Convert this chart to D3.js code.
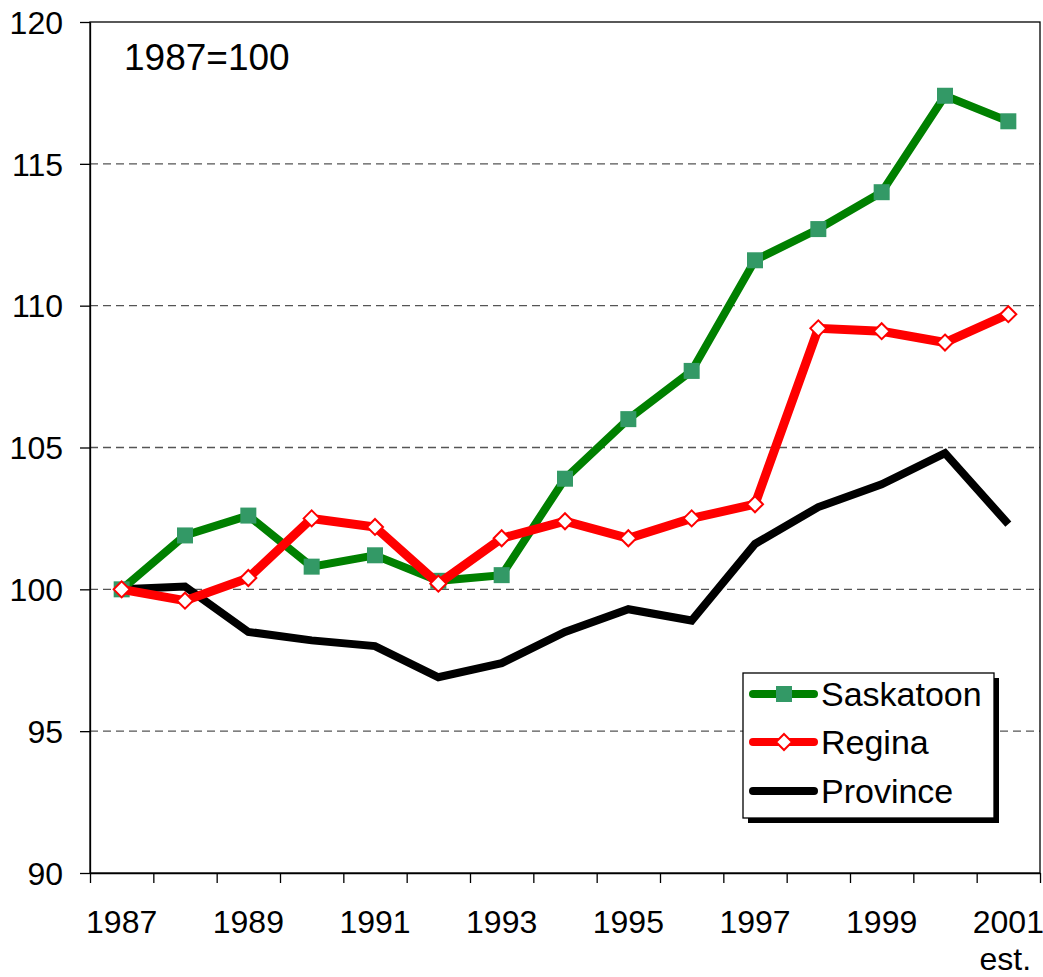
<!DOCTYPE html>
<html>
<head>
<meta charset="utf-8">
<script src="https://cdn.jsdelivr.net/npm/d3@7"></script>
<style>
  body { margin: 0; background: #fff; overflow: hidden; }
  svg { display: block; }
  svg text { font-family: "Liberation Sans", Arial, sans-serif; fill: #000; }
</style>
</head>
<body>
<div id="chart"></div>
<script>
const years = ["1987", "1988", "1989", "1990", "1991", "1992", "1993", "1994",
               "1995", "1996", "1997", "1998", "1999", "2000", "2001"];
const labelYears = ["1987", "1989", "1991", "1993", "1995", "1997", "1999", "2001"];
const saskatoon = [100, 101.9, 102.6, 100.8, 101.2, 100.3, 100.5, 103.9,
                   106.0, 107.7, 111.6, 112.7, 114.0, 117.4, 116.5];
const regina = [100, 99.6, 100.4, 102.5, 102.2, 100.2, 101.8, 102.4,
                101.8, 102.5, 103.0, 109.2, 109.1, 108.7, 109.7];
const province = [100, 100.1, 98.5, 98.2, 98.0, 96.9, 97.4, 98.5,
                  99.3, 98.9, 101.6, 102.9, 103.7, 104.8, 102.3];
const yTicks = [90, 95, 100, 105, 110, 115, 120];

const width = 1043, height = 977;
const plotLeft = 90, plotRight = 1040, plotTop = 22, plotBottom = 873;

const svg = d3.select("#chart").append("svg")
  .attr("width", width).attr("height", height);

const x = d3.scaleBand().domain(years).range([plotLeft, plotRight]);
const xEdge = d3.scaleLinear().domain([0, years.length]).range([plotLeft, plotRight]);
const y = d3.scaleLinear().domain([90, 120]).range([plotBottom, plotTop]);

// dashed gridlines
svg.append("g")
  .selectAll("line")
  .data(yTicks.filter(d => d > 90 && d < 120))
  .enter().append("line")
  .attr("x1", plotLeft).attr("x2", plotRight)
  .attr("y1", d => y(d)).attr("y2", d => y(d))
  .attr("stroke", "#555").attr("stroke-width", 1.3)
  .attr("stroke-dasharray", "8,5");

// plot frame
svg.append("rect")
  .attr("x", plotLeft).attr("y", plotTop)
  .attr("width", plotRight - plotLeft).attr("height", plotBottom - plotTop)
  .attr("fill", "none").attr("stroke", "#000").attr("stroke-width", 1.3);

// y axis
const yAxis = svg.append("g")
  .attr("transform", `translate(${plotLeft},0)`)
  .call(d3.axisLeft(y).tickValues(yTicks).tickSize(10).tickSizeOuter(0).tickPadding(17));
yAxis.selectAll("text").style("font-size", "32px").attr("dy", "0.35em");

// x axis: ticks between categories
svg.append("g")
  .attr("transform", `translate(0,${plotBottom})`)
  .call(d3.axisBottom(xEdge).ticks(years.length).tickSize(10).tickSizeOuter(0).tickFormat(""));

// x axis labels
const xLab = svg.append("g")
  .attr("transform", `translate(0,${plotBottom})`)
  .call(d3.axisBottom(x).tickValues(labelYears).tickSize(0).tickPadding(37));
xLab.select(".domain").remove();
xLab.selectAll("text").style("font-size", "32px").attr("dy", "0.71em");
xLab.selectAll(".tick").filter(d => d === "2001").select("text")
  .append("tspan").attr("x", -3).attr("dy", "1.18em").text("est.");

svg.selectAll(".domain").attr("stroke-width", 1.3);
svg.selectAll(".tick line").attr("stroke-width", 1.3);

const line = d3.line()
  .x((d, i) => x(years[i]) + x.bandwidth() / 2)
  .y(d => y(d));

// Province
svg.append("path").datum(province)
  .attr("d", line).attr("fill", "none")
  .attr("stroke", "#000").attr("stroke-width", 8);

// Saskatoon
svg.append("path").datum(saskatoon)
  .attr("d", line).attr("fill", "none")
  .attr("stroke", "#008000").attr("stroke-width", 8);
svg.append("g").selectAll("rect").data(saskatoon).enter().append("rect")
  .attr("x", (d, i) => x(years[i]) + x.bandwidth() / 2 - 8)
  .attr("y", d => y(d) - 8)
  .attr("width", 16).attr("height", 16)
  .attr("fill", "#339966");

// Regina
svg.append("path").datum(regina)
  .attr("d", line).attr("fill", "none")
  .attr("stroke", "#ff0000").attr("stroke-width", 9);
const diamond = (cx, cy, r) => `M${cx},${cy - r}L${cx + r},${cy}L${cx},${cy + r}L${cx - r},${cy}Z`;
svg.append("g").selectAll("path").data(regina).enter().append("path")
  .attr("d", (d, i) => diamond(x(years[i]) + x.bandwidth() / 2, y(d), 8))
  .attr("fill", "#fff").attr("stroke", "#ff0000").attr("stroke-width", 2);

// label
svg.append("text").attr("x", 124).attr("y", 70)
  .style("font-size", "37px").text("1987=100");

// legend
const lg = svg.append("g");
lg.append("rect").attr("x", 748).attr("y", 678).attr("width", 251).attr("height", 145).attr("fill", "#000");
lg.append("rect").attr("x", 743).attr("y", 673).attr("width", 251).attr("height", 145)
  .attr("fill", "#fff").attr("stroke", "#000").attr("stroke-width", 1.3);

const legendItems = [
  { name: "Saskatoon", color: "#008000", marker: "square", ly: 694 },
  { name: "Regina", color: "#ff0000", marker: "diamond", ly: 742 },
  { name: "Province", color: "#000", marker: null, ly: 791 }
];
legendItems.forEach(it => {
  lg.append("line").attr("x1", 753).attr("x2", 814)
    .attr("y1", it.ly).attr("y2", it.ly)
    .attr("stroke", it.color).attr("stroke-width", 8).attr("stroke-linecap", "round");
  if (it.marker === "square") {
    lg.append("rect").attr("x", 776).attr("y", it.ly - 8).attr("width", 16).attr("height", 16).attr("fill", "#339966");
  } else if (it.marker === "diamond") {
    lg.append("path").attr("d", diamond(784, it.ly, 8)).attr("fill", "#fff").attr("stroke", "#ff0000").attr("stroke-width", 2);
  }
  lg.append("text").attr("x", 821).attr("y", it.ly).attr("dy", "0.36em")
    .style("font-size", "34px").text(it.name);
});
</script>
</body>
</html>
